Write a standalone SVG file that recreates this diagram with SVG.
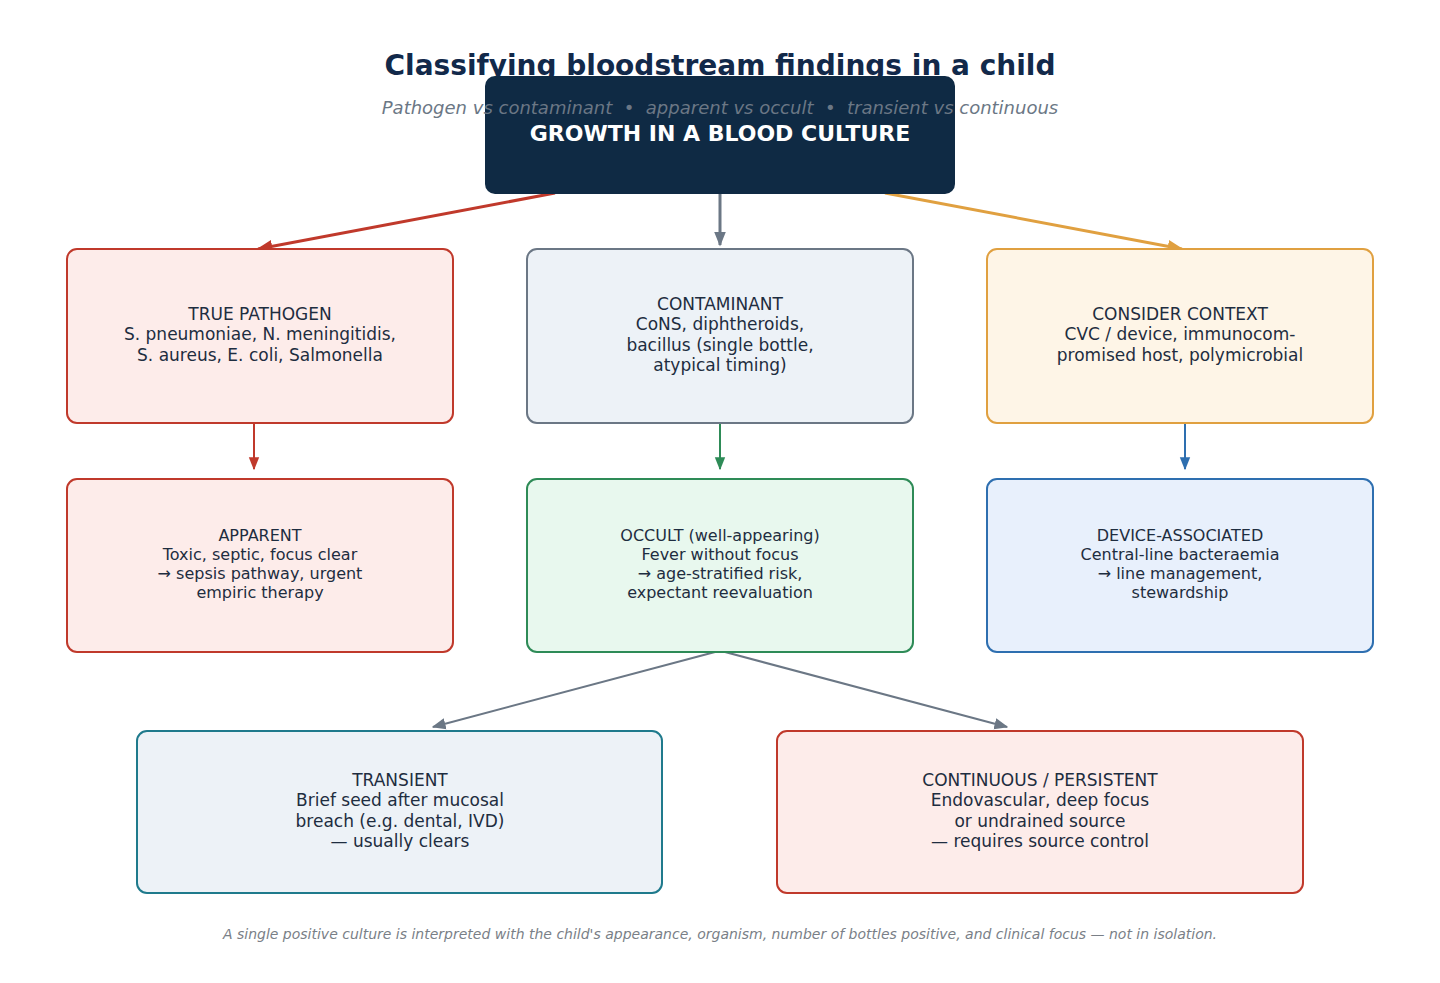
<svg xmlns="http://www.w3.org/2000/svg" width="1440" height="983" viewBox="0 0 1440 983">
<defs>
<style>
.title{font-family:"DejaVu Sans",sans-serif;font-weight:bold;font-size:28px;fill:#12294a;text-anchor:middle}
.sub{font-family:"DejaVu Sans",sans-serif;font-style:italic;font-size:18px;fill:#6b7785;text-anchor:middle;white-space:pre}
.foot{font-family:"DejaVu Sans",sans-serif;font-style:italic;font-size:14px;fill:#7a7f87;text-anchor:middle}
.t{font-family:"DejaVu Sans",sans-serif;font-size:17px;fill:#1e2d40;text-anchor:middle}
.t2{font-family:"DejaVu Sans",sans-serif;font-size:16px;fill:#1e2d40;text-anchor:middle}
.root{font-family:"DejaVu Sans",sans-serif;font-weight:bold;font-size:22px;fill:#ffffff;text-anchor:middle}
.red rect{fill:#fdecea;stroke:#c0392b;stroke-width:2}
.gray rect{fill:#edf2f7;stroke:#6b7785;stroke-width:2}
.orange rect{fill:#fef5e7;stroke:#e0a040;stroke-width:2}
.green rect{fill:#e8f8ee;stroke:#2e8b57;stroke-width:2}
.blue rect{fill:#e8f0fc;stroke:#2e6fb0;stroke-width:2}
.teal rect{fill:#edf2f7;stroke:#1f7a8c;stroke-width:2}
.c{fill:none}
</style>
<marker id="mRed" viewBox="0 0 10 10" refX="9" refY="5" markerWidth="16" markerHeight="16" markerUnits="userSpaceOnUse" orient="auto"><path d="M0,1 L10,5 L0,9 z" fill="#c0392b"/></marker>
<marker id="mGray" viewBox="0 0 10 10" refX="9" refY="5" markerWidth="15" markerHeight="15" markerUnits="userSpaceOnUse" orient="auto"><path d="M0,1 L10,5 L0,9 z" fill="#6b7785"/></marker>
<marker id="mOrange" viewBox="0 0 10 10" refX="9" refY="5" markerWidth="16" markerHeight="16" markerUnits="userSpaceOnUse" orient="auto"><path d="M0,1 L10,5 L0,9 z" fill="#e0a040"/></marker>
<marker id="mGreen" viewBox="0 0 10 10" refX="9" refY="5" markerWidth="13" markerHeight="13" markerUnits="userSpaceOnUse" orient="auto"><path d="M0,1 L10,5 L0,9 z" fill="#2e8b57"/></marker>
<marker id="mBlue" viewBox="0 0 10 10" refX="9" refY="5" markerWidth="13" markerHeight="13" markerUnits="userSpaceOnUse" orient="auto"><path d="M0,1 L10,5 L0,9 z" fill="#2e6fb0"/></marker>
<marker id="mRed2" viewBox="0 0 10 10" refX="9" refY="5" markerWidth="13" markerHeight="13" markerUnits="userSpaceOnUse" orient="auto"><path d="M0,1 L10,5 L0,9 z" fill="#c0392b"/></marker>
<marker id="mGray2" viewBox="0 0 10 10" refX="9" refY="5" markerWidth="14" markerHeight="14" markerUnits="userSpaceOnUse" orient="auto"><path d="M0,1 L10,5 L0,9 z" fill="#6b7785"/></marker>
</defs>
<rect width="1440" height="983" fill="#ffffff"/>
<text class="title" x="720" y="75">Classifying bloodstream findings in a child</text>

<g id="connectors">
<line class="c" x1="555" y1="193" x2="258" y2="249" stroke="#c0392b" stroke-width="3" marker-end="url(#mRed)"/>
<line class="c" x1="720" y1="194" x2="720" y2="245" stroke="#6b7785" stroke-width="3" marker-end="url(#mGray)"/>
<line class="c" x1="885" y1="193" x2="1182" y2="249" stroke="#e0a040" stroke-width="3" marker-end="url(#mOrange)"/>
<line class="c" x1="254" y1="423" x2="254" y2="469" stroke="#c0392b" stroke-width="2" marker-end="url(#mRed2)"/>
<line class="c" x1="720" y1="423" x2="720" y2="469" stroke="#2e8b57" stroke-width="2" marker-end="url(#mGreen)"/>
<line class="c" x1="1185" y1="423" x2="1185" y2="469" stroke="#2e6fb0" stroke-width="2" marker-end="url(#mBlue)"/>
<line class="c" x1="715" y1="652" x2="433" y2="727" stroke="#6b7785" stroke-width="2" marker-end="url(#mGray2)"/>
<line class="c" x1="725" y1="652" x2="1007" y2="727" stroke="#6b7785" stroke-width="2" marker-end="url(#mGray2)"/>
</g>

<g id="root">
<rect x="485" y="76" width="470" height="118" rx="10" fill="#0f2a44"/>
<text class="root" x="720" y="141">GROWTH IN A BLOOD CULTURE</text>
</g>
<text class="sub" x="720" y="114" xml:space="preserve">Pathogen vs contaminant  •  apparent vs occult  •  transient vs continuous</text>

<g id="pathogen" class="red">
<rect x="67" y="249" width="386" height="174" rx="10"/>
<text class="t" x="260" y="320">TRUE PATHOGEN</text>
<text class="t" x="260" y="340">S. pneumoniae, N. meningitidis,</text>
<text class="t" x="260" y="361">S. aureus, E. coli, Salmonella</text>
</g>

<g id="contaminant" class="gray">
<rect x="527" y="249" width="386" height="174" rx="10"/>
<text class="t" x="720" y="310">CONTAMINANT</text>
<text class="t" x="720" y="330">CoNS, diphtheroids,</text>
<text class="t" x="720" y="351">bacillus (single bottle,</text>
<text class="t" x="720" y="371">atypical timing)</text>
</g>

<g id="context" class="orange">
<rect x="987" y="249" width="386" height="174" rx="10"/>
<text class="t" x="1180" y="320">CONSIDER CONTEXT</text>
<text class="t" x="1180" y="340">CVC / device, immunocom-</text>
<text class="t" x="1180" y="361">promised host, polymicrobial</text>
</g>

<g id="apparent" class="red">
<rect x="67" y="479" width="386" height="173" rx="10"/>
<text class="t2" x="260" y="541">APPARENT</text>
<text class="t2" x="260" y="560">Toxic, septic, focus clear</text>
<text class="t2" x="260" y="579">→ sepsis pathway, urgent</text>
<text class="t2" x="260" y="598">empiric therapy</text>
</g>

<g id="occult" class="green">
<rect x="527" y="479" width="386" height="173" rx="10"/>
<text class="t2" x="720" y="541">OCCULT (well-appearing)</text>
<text class="t2" x="720" y="560">Fever without focus</text>
<text class="t2" x="720" y="579">→ age-stratified risk,</text>
<text class="t2" x="720" y="598">expectant reevaluation</text>
</g>

<g id="device" class="blue">
<rect x="987" y="479" width="386" height="173" rx="10"/>
<text class="t2" x="1180" y="541">DEVICE-ASSOCIATED</text>
<text class="t2" x="1180" y="560">Central-line bacteraemia</text>
<text class="t2" x="1180" y="579">→ line management,</text>
<text class="t2" x="1180" y="598">stewardship</text>
</g>

<g id="transient" class="teal">
<rect x="137" y="731" width="525" height="162" rx="10"/>
<text class="t" x="400" y="786">TRANSIENT</text>
<text class="t" x="400" y="806">Brief seed after mucosal</text>
<text class="t" x="400" y="827">breach (e.g. dental, IVD)</text>
<text class="t" x="400" y="847">— usually clears</text>
</g>

<g id="continuous" class="red">
<rect x="777" y="731" width="526" height="162" rx="10"/>
<text class="t" x="1040" y="786">CONTINUOUS / PERSISTENT</text>
<text class="t" x="1040" y="806">Endovascular, deep focus</text>
<text class="t" x="1040" y="827">or undrained source</text>
<text class="t" x="1040" y="847">— requires source control</text>
</g>

<text class="foot" x="720" y="939">A single positive culture is interpreted with the child's appearance, organism, number of bottles positive, and clinical focus — not in isolation.</text>
</svg>
